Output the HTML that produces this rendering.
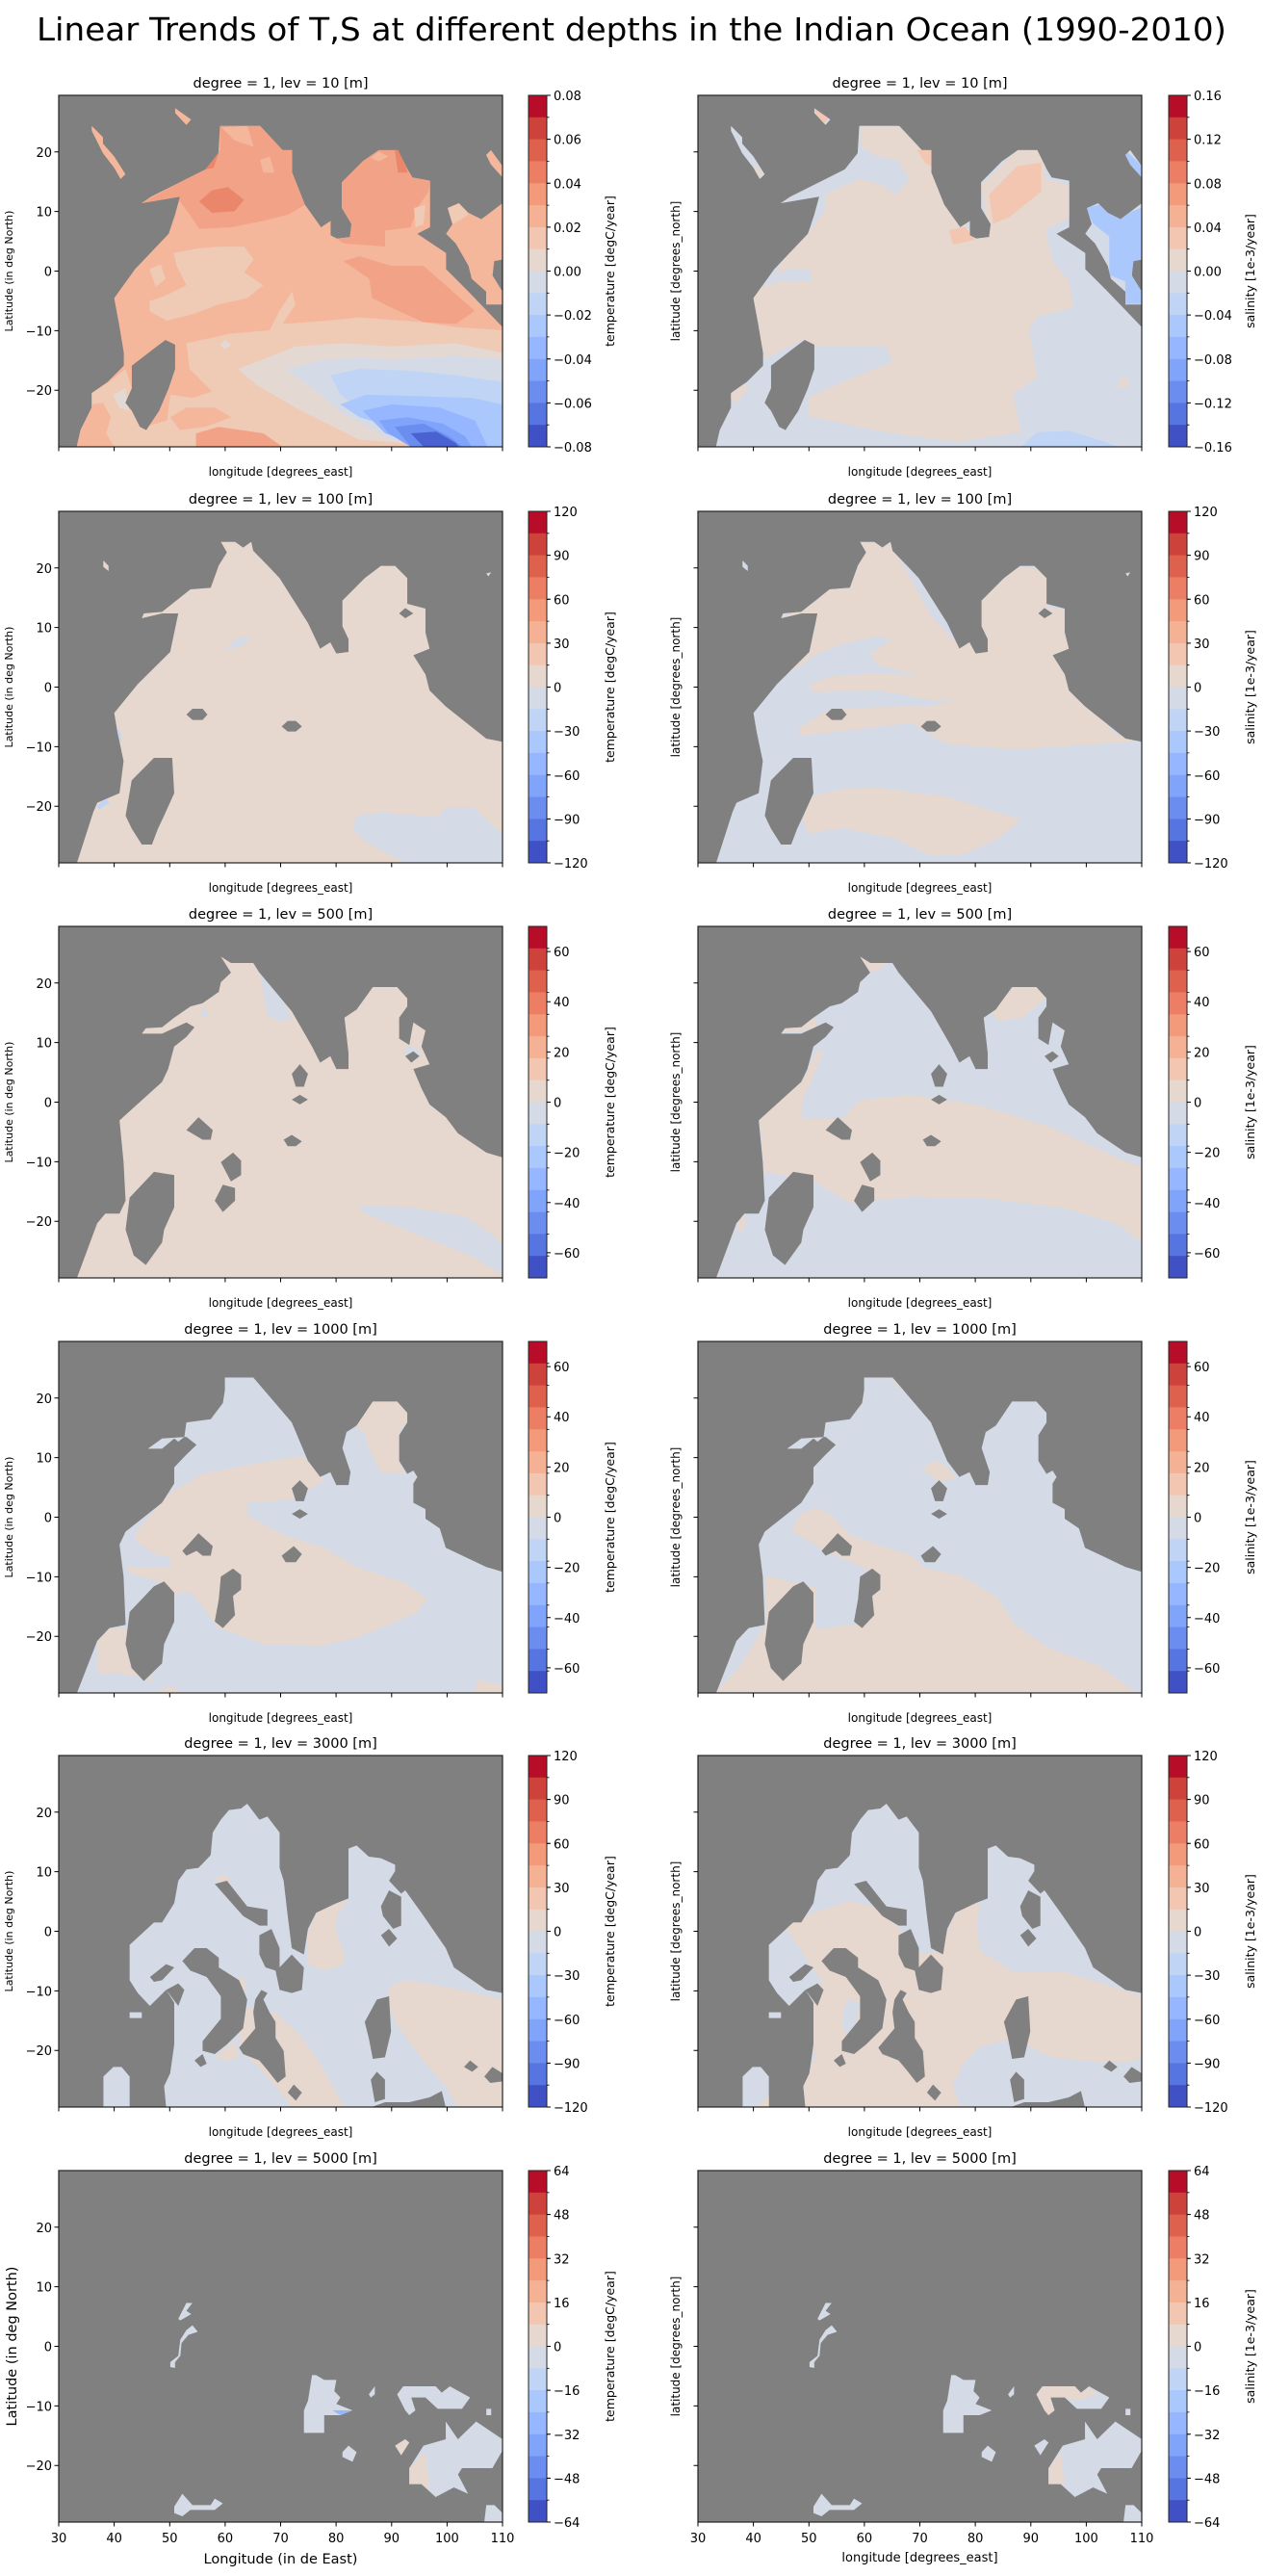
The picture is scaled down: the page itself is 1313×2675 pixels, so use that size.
<!DOCTYPE html>
<html><head><meta charset="utf-8"><style>
html,body{margin:0;padding:0;background:#fff;width:1313px;height:2675px;overflow:hidden;}
svg{display:block;}
text{font-family:"DejaVu Sans","Liberation Sans",sans-serif;fill:#000;}
</style></head><body>
<svg width="1313" height="2675" viewBox="0 0 1313 2675" xmlns="http://www.w3.org/2000/svg">
<defs>
<path id="m1" d="M118,1122 L130,1070 165,1000 165,955 215,920 265,870 265,830 250,740 235,660 300,570 405,460 425,400 440,345 320,365 350,345 440,300 520,260 560,210 565,125 690,125 760,200 790,200 790,270 830,370 880,440 910,420 910,465 930,475 970,470 975,430 945,380 945,300 1010,235 1060,200 1120,200 1150,260 1165,285 1220,295 1220,440 1180,460 1270,520 1270,570 1340,640 1446,750 1446,1122 Z M1275,380 L1310,365 1340,395 1380,415 1446,365 1446,540 1420,545 1415,590 1446,640 1446,680 1395,680 1395,640 1350,600 1340,560 1300,490 1270,460 1290,430 Z M1395,215 L1410,200 1446,250 1446,285 1410,245 Z M165,125 L200,160 200,180 235,220 270,275 255,290 235,255 200,210 165,140 Z M425,70 L475,105 460,122 425,85 Z"/>
<path id="i1" d="M395,790 L425,805 425,880 405,940 375,1010 335,1070 315,1060 290,1010 270,985 290,940 290,870 355,820 Z"/>
<path id="m2" d="M190,1187 L230,1030 240,1000 295,970 305,870 290,780 282,720 340,630 420,530 430,470 440,410 400,410 350,425 355,410 400,405 430,375 470,335 520,330 540,260 560,220 545,187 580,187 600,205 620,187 625,215 660,260 690,300 720,360 760,440 790,520 815,500 830,535 860,530 860,490 845,450 845,370 900,300 940,262 975,262 1005,300 1005,380 1050,395 1050,470 1060,520 1020,540 1050,600 1060,650 1100,700 1160,760 1200,800 1240,810 1240,1187 Z M255,245 L268,262 268,278 255,265 Z M1200,285 L1212,282 1205,295 Z"/>
<path id="i2" d="M380,860 L425,860 430,970 405,1040 390,1080 375,1130 350,1130 325,1080 310,1040 325,930 Z M460,725 L475,707 500,707 512,725 500,742 475,742 Z M695,762 L710,745 730,745 745,762 730,778 710,778 Z M985,410 L1000,393 1020,410 1000,425 Z"/>
<path id="m3" d="M190,1190 L240,1020 260,990 295,990 310,950 305,830 295,700 400,580 415,540 430,470 460,440 480,410 460,395 400,430 350,430 360,413 400,410 430,380 470,345 500,335 540,300 545,270 570,240 545,190 570,210 625,210 640,240 720,360 770,470 790,520 815,500 830,540 860,540 860,490 850,380 880,355 920,285 980,285 1005,320 1005,345 985,380 985,445 1010,465 1020,395 1050,420 1040,470 1060,525 1020,540 1040,600 1060,650 1100,690 1130,740 1200,800 1240,815 1240,1190 Z"/>
<path id="i3" d="M380,860 L430,870 430,970 405,1040 400,1080 360,1150 330,1120 310,1040 320,940 Z M720,555 L740,525 760,555 750,595 730,595 Z M720,635 L740,620 760,635 740,650 Z M460,730 L490,690 525,730 520,760 500,760 Z M545,830 L575,800 595,825 595,870 570,890 Z M530,950 L550,900 580,910 580,950 550,985 Z M700,760 L720,745 745,765 730,780 710,780 Z M1000,500 L1020,485 1035,500 1015,520 Z"/>
<path id="m4" d="M190,1192 L240,1030 270,990 310,980 305,830 295,730 310,690 400,600 430,540 430,490 460,450 485,420 460,395 400,400 365,432 400,432 430,400 440,410 455,395 460,350 520,340 550,290 555,250 555,210 625,210 720,350 760,470 790,520 815,505 830,545 860,545 865,505 845,430 855,380 880,360 920,285 980,285 1005,320 1005,350 985,390 985,470 1005,510 1020,500 1030,520 1020,540 1020,600 1050,620 1050,650 1085,680 1100,740 1200,800 1240,815 1240,1192 Z"/>
<path id="i4" d="M380,860 L405,845 430,880 430,970 405,1040 400,1100 355,1155 325,1115 310,1040 320,940 Z M720,555 L740,530 760,555 750,595 730,595 Z M720,635 L740,620 760,635 740,650 Z M450,750 L490,695 525,735 520,765 500,765 485,750 460,765 Z M545,830 L575,805 595,825 595,870 575,890 580,950 550,990 530,970 540,900 Z M695,765 L725,735 745,760 730,785 705,785 Z M1020,415 L1035,415 1035,490 1020,490 Z"/>
<path id="m5" d="M255,1195 L255,1100 280,1070 300,1070 320,1100 320,1195 Z M320,900 L350,900 350,918 320,918 Z M410,1195 L405,1130 420,1090 430,1000 430,870 410,830 370,880 340,840 320,800 320,690 380,620 400,620 430,560 440,490 460,455 490,450 520,410 525,340 545,300 565,270 595,265 610,250 640,300 660,290 690,340 690,450 700,490 710,600 720,700 750,720 760,640 780,590 830,560 860,545 860,390 880,380 910,415 940,420 975,440 975,460 960,490 990,530 1000,520 1040,590 1100,700 1120,760 1200,830 1240,840 1240,1195 Z"/>
<path id="i5" d="M530,500 L560,490 610,570 660,580 660,630 640,630 600,600 Z M640,660 L670,640 690,700 690,760 720,720 750,760 745,830 720,840 690,830 680,770 655,760 640,720 Z M370,790 L410,750 430,760 400,800 380,805 Z M410,830 L440,810 455,830 440,880 Z M450,740 L480,700 510,700 540,730 540,760 590,800 610,860 600,950 560,1000 530,1030 500,1020 500,990 545,920 545,850 510,790 490,780 470,770 Z M480,1050 L500,1030 510,1060 495,1070 Z M630,860 L645,830 660,840 650,860 665,900 680,930 680,980 700,1020 705,1100 685,1120 660,1080 640,1050 600,1030 590,1010 630,950 625,900 Z M710,1150 L725,1125 745,1150 730,1175 Z M940,570 L960,520 990,540 990,630 970,640 945,600 Z M940,660 L960,640 980,670 960,695 Z M900,930 L930,860 960,850 965,960 950,1040 920,1045 910,980 Z M915,1110 L930,1085 950,1110 950,1170 925,1180 Z M915,1196 L950,1180 1010,1180 1060,1165 1090,1145 1100,1196 Z M1145,1070 L1160,1050 1180,1070 1165,1085 Z M1195,1100 L1215,1070 1240,1090 1240,1115 1210,1120 Z"/>
<path id="m6" d="M440,625 L460,575 475,575 460,600 472,610 445,630 Z M420,775 L420,760 440,740 445,690 460,660 475,645 488,665 465,675 448,700 445,740 432,760 432,778 Z M760,880 L770,800 780,800 800,815 830,815 825,850 840,870 830,890 870,910 840,925 800,925 800,980 750,980 750,910 Z M845,1040 L860,1020 880,1040 870,1070 845,1055 Z M910,860 L925,835 925,860 915,870 Z M980,860 L995,835 1075,835 1090,855 1110,835 1160,870 1140,905 1080,905 1050,870 1015,870 1025,910 1010,925 1000,910 Z M975,1020 L1000,1000 1010,1010 990,1050 Z M1010,1090 L1045,1020 1100,1000 1100,945 1130,1000 1175,945 1240,1000 1240,1035 1215,1090 1140,1090 1130,1110 1155,1170 1120,1150 1075,1180 1040,1140 1010,1140 Z M430,1210 L450,1170 475,1205 520,1205 530,1185 550,1200 530,1220 470,1220 450,1240 430,1230 Z M1195,1258 L1200,1205 1220,1205 1240,1230 1240,1258 Z M1200,905 L1212,905 1212,925 1200,925 Z"/>
<clipPath id="c1"><use href="#m1"/></clipPath>
<clipPath id="c2"><use href="#m2"/></clipPath>
<clipPath id="c3"><use href="#m3"/></clipPath>
<clipPath id="c4"><use href="#m4"/></clipPath>
<clipPath id="c5"><use href="#m5"/></clipPath>
<clipPath id="c6"><use href="#m6"/></clipPath>
<g id="cb">
<rect x="0" y="0" width="19" height="23.3" fill="#b70d28"/>
<rect x="0" y="22.8" width="19" height="23.3" fill="#cd423b"/>
<rect x="0" y="45.6" width="19" height="23.3" fill="#de614d"/>
<rect x="0" y="68.4" width="19" height="23.3" fill="#ec7f63"/>
<rect x="0" y="91.3" width="19" height="23.3" fill="#f39a7b"/>
<rect x="0" y="114.1" width="19" height="23.3" fill="#f5b194"/>
<rect x="0" y="136.9" width="19" height="23.3" fill="#f2c6b0"/>
<rect x="0" y="159.7" width="19" height="23.3" fill="#e6d7cf"/>
<rect x="0" y="182.5" width="19" height="23.3" fill="#d4dbe6"/>
<rect x="0" y="205.3" width="19" height="23.3" fill="#c0d4f5"/>
<rect x="0" y="228.1" width="19" height="23.3" fill="#abc8fd"/>
<rect x="0" y="250.9" width="19" height="23.3" fill="#96b7ff"/>
<rect x="0" y="273.8" width="19" height="23.3" fill="#81a4fb"/>
<rect x="0" y="296.6" width="19" height="23.3" fill="#6b8df0"/>
<rect x="0" y="319.4" width="19" height="23.3" fill="#5775e0"/>
<rect x="0" y="342.2" width="19" height="22.8" fill="#3f51c5"/>
<rect x="0" y="0" width="19" height="365" fill="none" stroke="#222" stroke-width="1"/>
<path d="M19,22.8h2.5M19,45.6h2.5M19,68.4h2.5M19,91.3h2.5M19,114.1h2.5M19,136.9h2.5M19,159.7h2.5M19,182.5h2.5M19,205.3h2.5M19,228.1h2.5M19,250.9h2.5M19,273.8h2.5M19,296.6h2.5M19,319.4h2.5M19,342.2h2.5" stroke="#000" stroke-width="0.8"/>
</g>
<path id="tk9" d="M19,0h4M19,45.6h4M19,91.3h4M19,136.9h4M19,182.5h4M19,228.1h4M19,273.8h4M19,319.4h4M19,365h4" stroke="#000" stroke-width="1"/>
<path id="tk7" d="M19,26.1h4M19,78.2h4M19,130.4h4M19,182.5h4M19,234.6h4M19,286.8h4M19,338.9h4" stroke="#000" stroke-width="1"/>
<path id="yt" d="M-4.5,58.8h4.5M-4.5,120.6h4.5M-4.5,182.5h4.5M-4.5,244.4h4.5M-4.5,306.2h4.5" stroke="#000" stroke-width="1"/>
<path id="xt" d="M0,365v4.5M57.6,365v4.5M115.3,365v4.5M172.9,365v4.5M230.5,365v4.5M288.1,365v4.5M345.8,365v4.5M403.4,365v4.5M461,365v4.5" stroke="#000" stroke-width="1"/>
<rect id="fr" x="0" y="0" width="461" height="365" fill="none" stroke="#222" stroke-width="1.2"/>
</defs>

<text x="656" y="42" font-size="33" text-anchor="middle" textLength="1236" lengthAdjust="spacingAndGlyphs">Linear Trends of T,S at different depths in the Indian Ocean (1990-2010)</text>

<!-- ========== ROW 1 ========== -->
<text x="291.5" y="91" font-size="14.5" text-anchor="middle">degree = 1, lev = 10 [m]</text>
<text x="955.5" y="91" font-size="14.5" text-anchor="middle">degree = 1, lev = 10 [m]</text>
<svg x="61" y="99" width="461" height="365" viewBox="62 30 1384 1092" preserveAspectRatio="none">
<rect x="0" y="0" width="2000" height="2000" fill="#808080"/>
<g clip-path="url(#c1)">
<rect x="0" y="0" width="2000" height="2000" fill="#f5b79b"/>
<polygon fill="#f2a387" points="320,365 440,300 565,200 565,125 690,125 790,200 800,300 830,370 780,400 700,420 600,440 500,445 470,400 440,360"/>
<polygon fill="#f5b79b" points="570,130 650,125 670,190 610,170"/>
<polygon fill="#f5b79b" points="690,230 720,220 735,270 700,270"/>
<polygon fill="#ea866a" points="500,360 540,325 590,315 640,355 610,390 540,395"/>
<polygon fill="#ea866a" points="500,265 560,210 545,255"/>
<polygon fill="#f2a387" points="945,300 1010,235 1060,200 1120,200 1150,260 1165,285 1220,295 1215,330 1180,380 1160,440 1080,450 1080,500 950,490 930,475 970,470 975,430 945,380"/>
<polygon fill="#f2a387" points="950,545 1000,530 1100,560 1200,560 1280,630 1360,700 1300,740 1200,735 1100,690 1040,660 1030,600"/>
<polygon fill="#f5b79b" points="1035,225 1060,205 1090,220 1060,235"/>
<polygon fill="#efcab5" points="1170,380 1205,370 1200,430 1175,440"/>
<polygon fill="#ea866a" points="1110,200 1130,200 1150,270 1120,270"/>
<polygon fill="#efcab5" points="345,570 380,555 395,600 365,625"/>
<polygon fill="#efcab5" points="420,520 500,505 560,500 640,500 670,540 640,580 700,620 650,660 560,680 480,710 400,730 345,700 345,670 400,650 460,620 430,560"/>
<polygon fill="#efcab5" points="1270,380 1310,365 1340,400 1310,420 1290,430"/>
<polygon fill="#efcab5" points="460,800 600,770 720,760 750,700 790,640 800,680 760,740 900,730 1000,720 1200,735 1300,750 1446,760 1446,1122 118,1122 130,1070 165,955 220,920 270,880 330,1060 400,1040 410,960 480,970 540,950 470,880"/>
<polygon fill="#f5b79b" points="130,1070 165,990 200,985 225,1030 210,1080 235,1122 118,1122"/>
<polygon fill="#f5b79b" points="410,1030 460,1000 550,1000 600,1030 520,1060 440,1070"/>
<polygon fill="#e3d8d2" points="230,960 270,940 280,1010 250,1000"/>
<polygon fill="#e3d8d2" points="565,805 580,790 600,805 580,820"/>
<polygon fill="#e3d8d2" points="620,880 700,850 800,810 950,800 1100,810 1300,800 1446,830 1446,1122 1300,1122 1000,1100 800,1000 680,930"/>
<polygon fill="#d4dbe6" points="770,880 900,850 1000,845 1100,850 1300,840 1446,850 1446,1122 1350,1122 1100,1100 950,1020 880,960"/>
<polygon fill="#c0d4f5" points="910,900 1000,880 1150,885 1300,900 1446,920 1446,1122 1380,1122 1200,1100 1060,1060 1000,1000 940,960"/>
<polygon fill="#abc8fd" points="940,990 1020,960 1200,965 1350,970 1446,990 1446,1122 1400,1122 1250,1100 1100,1060 1000,1030"/>
<polygon fill="#96b7ff" points="1010,1010 1100,990 1250,1000 1360,1040 1400,1122 1200,1122 1080,1080"/>
<polygon fill="#81a4fb" points="1060,1040 1150,1030 1260,1050 1330,1090 1350,1122 1160,1122 1090,1080"/>
<polygon fill="#6b8df0" points="1110,1060 1200,1050 1280,1090 1320,1122 1160,1122"/>
<polygon fill="#4a61d2" points="1160,1080 1240,1075 1300,1110 1310,1122 1200,1122"/>
<polygon fill="#f2a387" points="490,1080 560,1060 700,1080 760,1122 490,1122"/>
</g>
<use href="#i1" fill="#808080"/>
</svg>
<svg x="725" y="99" width="461" height="365" viewBox="62 30 1384 1092" preserveAspectRatio="none">
<rect x="0" y="0" width="2000" height="2000" fill="#808080"/>
<g clip-path="url(#c1)">
<rect x="0" y="0" width="2000" height="2000" fill="#d4dbe6"/>
<g transform="translate(62,30) scale(1.249,0.997) translate(-153,-120)">
<polygon fill="#e6d7cf" points="290,760 300,720 360,700 440,700 430,660 380,660 350,680 360,640 420,560 470,480 470,430 520,400 560,380 610,400 650,430 680,380 650,320 600,310 560,280 560,215 650,215 700,260 740,350 770,450 830,540 880,560 860,400 950,290 1020,290 1020,380 1080,400 1080,500 1020,540 1040,640 1080,700 1090,780 1000,810 980,850 1000,1000 940,1050 960,1170 800,1200 620,1170 430,1120 430,1060 520,1010 640,950 620,900 540,900 440,900 420,880 320,940 300,830"/>
<polygon fill="#e6d7cf" points="230,1060 260,1010 280,1030 250,1080"/>
<polygon fill="#e6d7cf" points="290,330 320,370 300,380"/>
<polygon fill="#f2c6b0" points="880,430 950,340 1010,330 1010,420 930,500 890,520"/>
<polygon fill="#f2c6b0" points="780,540 820,530 845,570 790,585"/>
<polygon fill="#f2c6b0" points="700,290 735,290 735,340 720,330"/>
<polygon fill="#f2c6b0" points="440,160 480,190 465,210"/>
<polygon fill="#abc8fd" points="1120,470 1160,460 1200,500 1261,470 1261,770 1220,770 1220,700 1180,680 1180,560 1140,520"/>
<polygon fill="#abc8fd" points="1220,290 1261,340 1261,380 1220,320"/>
<polygon fill="#c0d4f5" points="960,1215 1000,1170 1080,1165 1170,1200 1200,1215"/>
<polygon fill="#e6d7cf" points="1195,1030 1215,995 1230,1010 1225,1030"/>
</g>
</g>
<use href="#i1" fill="#808080"/>
</svg>

<!-- ========== ROW 2 ========== -->
<text x="291.5" y="523" font-size="14.5" text-anchor="middle">degree = 1, lev = 100 [m]</text>
<text x="955.5" y="523" font-size="14.5" text-anchor="middle">degree = 1, lev = 100 [m]</text>
<svg x="61" y="531" width="461" height="365" viewBox="145 92 1095 1095" preserveAspectRatio="none">
<rect x="0" y="0" width="2000" height="2000" fill="#808080"/>
<g clip-path="url(#c2)">
<rect x="0" y="0" width="2000" height="2000" fill="#e6d7cf"/>
<polygon fill="#d4dbe6" points="870,1080 880,1040 940,1030 1080,1045 1100,1015 1170,1015 1240,1100 1240,1187 1000,1187 900,1120"/>
<polygon fill="#d4dbe6" points="555,520 590,485 620,482 600,510 560,522"/>
<polygon fill="#c0d4f5" points="280,790 295,770 300,810"/>
<polygon fill="#c0d4f5" points="240,1010 260,985 270,1000 245,1020"/>
</g>
<use href="#i2" fill="#808080"/>
</svg>
<svg x="725" y="531" width="461" height="365" viewBox="145 92 1095 1095" preserveAspectRatio="none">
<rect x="0" y="0" width="2000" height="2000" fill="#808080"/>
<g clip-path="url(#c2)">
<rect x="0" y="0" width="2000" height="2000" fill="#d4dbe6"/>
<g transform="translate(145,92) scale(0.8475,1.639) translate(-178,-18)">
<polygon fill="#e6d7cf" points="420,220 520,190 640,100 650,78 740,78 860,220 940,275 1000,240 1000,185 1090,125 1165,125 1195,145 1195,200 1245,205 1260,280 1215,290 1390,440 1470,455 1100,470 900,460 800,420 480,445 470,430 560,395 700,385 860,380 700,362 520,362 500,350 560,332 700,326 820,330 700,310 680,290 740,262 700,255 600,270 520,290 470,315 420,330 440,300 500,270 525,225"/>
<polygon fill="#d4dbe6" points="500,362 700,358 870,378 940,372 860,388 700,390 560,395"/>
<polygon fill="#e6d7cf" points="480,600 510,560 600,545 700,543 900,560 1050,590 1120,605 1050,640 950,670 850,670 750,640 600,620 500,630"/>
</g>
</g>
<use href="#i2" fill="#808080"/>
</svg>

<!-- ========== ROW 3 ========== -->
<text x="291.5" y="954" font-size="14.5" text-anchor="middle">degree = 1, lev = 500 [m]</text>
<text x="955.5" y="954" font-size="14.5" text-anchor="middle">degree = 1, lev = 500 [m]</text>
<svg x="61" y="962" width="461" height="365" viewBox="145 96 1095 1094" preserveAspectRatio="none">
<rect x="0" y="0" width="2000" height="2000" fill="#808080"/>
<g clip-path="url(#c3)">
<rect x="0" y="0" width="2000" height="2000" fill="#e6d7cf"/>
<polygon fill="#d4dbe6" points="885,970 900,965 1000,968 1150,1000 1220,1060 1240,1090 1240,1180 1160,1120 1000,1040 900,990"/>
<polygon fill="#d4dbe6" points="640,235 700,330 720,385 690,392 660,372 650,300"/>
<polygon fill="#d4dbe6" points="495,360 505,350 515,375 500,380"/>
<polygon fill="#d4dbe6" points="995,490 1010,465 1030,480 1040,500 1010,500"/>
</g>
<use href="#i3" fill="#808080"/>
</svg>
<svg x="725" y="962" width="461" height="365" viewBox="145 96 1095 1094" preserveAspectRatio="none">
<rect x="0" y="0" width="2000" height="2000" fill="#808080"/>
<g clip-path="url(#c3)">
<rect x="0" y="0" width="2000" height="2000" fill="#d4dbe6"/>
<g transform="translate(145,96) scale(0.8475,1.643) translate(-178,-806)">
<polygon fill="#e6d7cf" points="358,1170 420,1130 490,1090 520,1045 545,1040 530,1065 480,1140 480,1170 600,1170 650,1135 800,1125 1000,1145 1200,1185 1400,1245 1470,1262 1470,1405 1400,1370 1250,1340 1000,1320 800,1318 620,1330 520,1290 370,1270"/>
<polygon fill="#e6d7cf" points="420,1005 480,985 520,980 520,1000 470,1005"/>
<polygon fill="#e6d7cf" points="650,860 740,870 700,890 660,895"/>
<polygon fill="#e6d7cf" points="1030,965 1100,920 1190,920 1195,940 1120,980 1050,985"/>
<polygon fill="#e6d7cf" points="290,1375 310,1350 320,1370 300,1385"/>
</g>
</g>
<use href="#i3" fill="#808080"/>
</svg>

<!-- ========== ROW 4 ========== -->
<text x="291.5" y="1385" font-size="14.5" text-anchor="middle">degree = 1, lev = 1000 [m]</text>
<text x="955.5" y="1385" font-size="14.5" text-anchor="middle">degree = 1, lev = 1000 [m]</text>
<svg x="61" y="1393" width="461" height="365" viewBox="145 98 1095 1094" preserveAspectRatio="none">
<rect x="0" y="0" width="2000" height="2000" fill="#808080"/>
<g clip-path="url(#c4)">
<rect x="0" y="0" width="2000" height="2000" fill="#d4dbe6"/>
<polygon fill="#e6d7cf" points="335,690 420,570 500,510 620,480 745,455 790,500 800,530 720,590 610,600 610,640 700,700 800,740 880,800 1000,850 1055,900 1030,940 960,980 880,1020 790,1045 650,1040 540,990 520,960 500,920 470,880 440,880 420,920 410,860 380,840 320,820 310,800 420,800 420,770 380,760 335,720"/>
<polygon fill="#e6d7cf" points="240,1130 280,1130 340,1140 380,1160 350,1080 320,1040 310,990 270,990 240,1030"/>
<polygon fill="#e6d7cf" points="870,360 920,285 980,285 1005,320 1005,345 985,380 985,470 1000,510 940,505 910,430 900,380"/>
<polygon fill="#e6d7cf" points="380,1192 420,1170 450,1192"/>
<polygon fill="#e6d7cf" points="1170,1192 1180,1150 1240,1170 1240,1192"/>
</g>
<use href="#i4" fill="#808080"/>
</svg>
<svg x="725" y="1393" width="461" height="365" viewBox="145 98 1095 1094" preserveAspectRatio="none">
<rect x="0" y="0" width="2000" height="2000" fill="#808080"/>
<g clip-path="url(#c4)">
<rect x="0" y="0" width="2000" height="2000" fill="#d4dbe6"/>
<g transform="translate(145,98) scale(0.8475,1.645) translate(-178,-25)">
<polygon fill="#e6d7cf" points="230,688 300,640 375,560 375,468 520,490 520,570 640,560 700,470 850,455 950,470 1050,510 1100,560 1200,605 1350,640 1450,688"/>
<polygon fill="#e6d7cf" points="455,375 480,350 520,340 560,350 620,390 700,410 800,430 840,455 700,470 650,450 560,425 520,410 455,385"/>
<polygon fill="#e6d7cf" points="830,265 870,250 900,260 930,285 880,290"/>
<polygon fill="#e6d7cf" points="740,95 770,100 790,125 760,110"/>
</g>
</g>
<use href="#i4" fill="#808080"/>
</svg>

<!-- ========== ROW 5 ========== -->
<text x="291.5" y="1815" font-size="14.5" text-anchor="middle">degree = 1, lev = 3000 [m]</text>
<text x="955.5" y="1815" font-size="14.5" text-anchor="middle">degree = 1, lev = 3000 [m]</text>
<svg x="61" y="1823" width="461" height="365" viewBox="145 100 1095 1095" preserveAspectRatio="none">
<rect x="0" y="0" width="2000" height="2000" fill="#808080"/>
<g clip-path="url(#c5)">
<rect x="0" y="0" width="2000" height="2000" fill="#d4dbe6"/>
<polygon fill="#e6d7cf" points="760,650 780,590 830,560 860,550 830,600 830,650 850,720 850,750 800,770 760,750"/>
<polygon fill="#e6d7cf" points="960,820 1000,800 1100,820 1240,860 1240,1195 1130,1195 1100,1130 1050,1060 980,940 960,880"/>
<polygon fill="#e6d7cf" points="600,880 640,900 680,900 740,970 790,1060 850,1195 720,1195 680,1130 630,1060 600,1030 590,1000"/>
<polygon fill="#e6d7cf" points="500,1030 530,1040 580,990 590,1040 560,1050"/>
<polygon fill="#e6d7cf" points="530,480 560,470 570,500 555,510"/>
<polygon fill="#e6d7cf" points="470,440 490,420 500,450"/>
<polygon fill="#e6d7cf" points="570,790 600,790 610,840"/>
</g>
<use href="#i5" fill="#808080"/>
</svg>
<svg x="725" y="1823" width="461" height="365" viewBox="145 100 1095 1095" preserveAspectRatio="none">
<rect x="0" y="0" width="2000" height="2000" fill="#808080"/>
<g clip-path="url(#c5)">
<rect x="0" y="0" width="2000" height="2000" fill="#d4dbe6"/>
<g transform="translate(145,100) scale(0.8475,1.647) translate(-178,-810)">
<polygon fill="#e6d7cf" points="430,1135 500,1110 620,1085 720,1100 780,1150 830,1185 880,1180 930,1105 1000,1085 990,1130 1000,1180 1100,1220 1250,1220 1350,1240 1470,1265 1470,1380 1420,1395 1330,1395 1200,1380 1050,1370 950,1400 920,1430 940,1475 350,1475 390,1450 400,1400 490,1420 520,1380 500,1320 510,1280 540,1240 500,1200 470,1170"/>
<polygon fill="#d4dbe6" points="600,1290 620,1270 650,1280 630,1340 600,1330"/>
<polygon fill="#d4dbe6" points="940,1400 1000,1360 1100,1345 1200,1380 1350,1390 1470,1390 1470,1475 1450,1475 1430,1420 1200,1410 1100,1420 980,1430"/>
</g>
</g>
<use href="#i5" fill="#808080"/>
</svg>

<!-- ========== ROW 6 ========== -->
<text x="291.5" y="2246" font-size="14.5" text-anchor="middle">degree = 1, lev = 5000 [m]</text>
<text x="955.5" y="2246" font-size="14.5" text-anchor="middle">degree = 1, lev = 5000 [m]</text>
<svg x="61" y="2254" width="461" height="365" viewBox="145 163 1095 1095" preserveAspectRatio="none">
<rect x="0" y="0" width="2000" height="2000" fill="#808080"/>
<g clip-path="url(#c6)">
<rect x="0" y="0" width="2000" height="2000" fill="#d4dbe6"/>
<polygon fill="#e6d7cf" points="1010,1090 1050,1040 1060,1160 1040,1140 1010,1140"/>
<polygon fill="#e6d7cf" points="965,1020 1000,1000 1010,1010 990,1050"/>
<polygon fill="#96b7ff" points="820,910 870,910 840,925"/>
</g>
</svg>
<svg x="725" y="2254" width="461" height="365" viewBox="145 163 1095 1095" preserveAspectRatio="none">
<rect x="0" y="0" width="2000" height="2000" fill="#808080"/>
<g clip-path="url(#c6)">
<rect x="0" y="0" width="2000" height="2000" fill="#d4dbe6"/>
<polygon fill="#e6d7cf" points="980,860 995,835 1075,835 1090,855 1110,840 1130,860 1080,880 1050,870 1015,870 1025,910 1010,925 1000,960 990,1000 970,1030 960,1010 990,960 1000,910"/>
<polygon fill="#e6d7cf" points="1010,1090 1040,1040 1050,1140 1010,1140"/>
</g>
</svg>

<!-- frames, ticks -->
<g>
<use href="#fr" x="61" y="99"/><use href="#fr" x="725" y="99"/>
<use href="#fr" x="61" y="531"/><use href="#fr" x="725" y="531"/>
<use href="#fr" x="61" y="962"/><use href="#fr" x="725" y="962"/>
<use href="#fr" x="61" y="1393"/><use href="#fr" x="725" y="1393"/>
<use href="#fr" x="61" y="1823"/><use href="#fr" x="725" y="1823"/>
<use href="#fr" x="61" y="2254"/><use href="#fr" x="725" y="2254"/>
<use href="#yt" x="61" y="99"/><use href="#yt" x="725" y="99"/>
<use href="#yt" x="61" y="531"/><use href="#yt" x="725" y="531"/>
<use href="#yt" x="61" y="962"/><use href="#yt" x="725" y="962"/>
<use href="#yt" x="61" y="1393"/><use href="#yt" x="725" y="1393"/>
<use href="#yt" x="61" y="1823"/><use href="#yt" x="725" y="1823"/>
<use href="#yt" x="61" y="2254"/><use href="#yt" x="725" y="2254"/>
<use href="#xt" x="61" y="99"/><use href="#xt" x="725" y="99"/>
<use href="#xt" x="61" y="531"/><use href="#xt" x="725" y="531"/>
<use href="#xt" x="61" y="962"/><use href="#xt" x="725" y="962"/>
<use href="#xt" x="61" y="1393"/><use href="#xt" x="725" y="1393"/>
<use href="#xt" x="61" y="1823"/><use href="#xt" x="725" y="1823"/>
<use href="#xt" x="61" y="2254"/><use href="#xt" x="725" y="2254"/>
</g>

<!-- colorbars -->
<use href="#cb" x="549" y="99"/><use href="#tk9" x="549" y="99"/>
<use href="#cb" x="1214" y="99"/><use href="#tk9" x="1214" y="99"/>
<use href="#cb" x="549" y="531"/><use href="#tk9" x="549" y="531"/>
<use href="#cb" x="1214" y="531"/><use href="#tk9" x="1214" y="531"/>
<use href="#cb" x="549" y="962"/><use href="#tk7" x="549" y="962"/>
<use href="#cb" x="1214" y="962"/><use href="#tk7" x="1214" y="962"/>
<use href="#cb" x="549" y="1393"/><use href="#tk7" x="549" y="1393"/>
<use href="#cb" x="1214" y="1393"/><use href="#tk7" x="1214" y="1393"/>
<use href="#cb" x="549" y="1823"/><use href="#tk9" x="549" y="1823"/>
<use href="#cb" x="1214" y="1823"/><use href="#tk9" x="1214" y="1823"/>
<use href="#cb" x="549" y="2254"/><use href="#tk9" x="549" y="2254"/>
<use href="#cb" x="1214" y="2254"/><use href="#tk9" x="1214" y="2254"/>

<!-- y tick labels (left column) -->
<g font-size="13" text-anchor="end">
<text x="54" y="162.8">20</text><text x="54" y="224.6">10</text><text x="54" y="286.5">0</text><text x="54" y="348.4">−10</text><text x="54" y="410.2">−20</text>
<text x="54" y="594.8">20</text><text x="54" y="656.6">10</text><text x="54" y="718.5">0</text><text x="54" y="780.4">−10</text><text x="54" y="842.2">−20</text>
<text x="54" y="1025.8">20</text><text x="54" y="1087.6">10</text><text x="54" y="1149.5">0</text><text x="54" y="1211.4">−10</text><text x="54" y="1273.2">−20</text>
<text x="54" y="1456.8">20</text><text x="54" y="1518.6">10</text><text x="54" y="1580.5">0</text><text x="54" y="1642.4">−10</text><text x="54" y="1704.2">−20</text>
<text x="54" y="1886.8">20</text><text x="54" y="1948.6">10</text><text x="54" y="2010.5">0</text><text x="54" y="2072.4">−10</text><text x="54" y="2134.2">−20</text>
<text x="54" y="2317.8">20</text><text x="54" y="2379.6">10</text><text x="54" y="2441.5">0</text><text x="54" y="2503.4">−10</text><text x="54" y="2565.2">−20</text>
</g>

<!-- x tick labels bottom row -->
<g font-size="13" text-anchor="middle">
<text x="61" y="2640">30</text><text x="118.6" y="2640">40</text><text x="176.3" y="2640">50</text><text x="233.9" y="2640">60</text><text x="291.5" y="2640">70</text><text x="349.1" y="2640">80</text><text x="406.8" y="2640">90</text><text x="464.4" y="2640">100</text><text x="522" y="2640">110</text>
<text x="725" y="2640">30</text><text x="782.6" y="2640">40</text><text x="840.3" y="2640">50</text><text x="897.9" y="2640">60</text><text x="955.5" y="2640">70</text><text x="1013.1" y="2640">80</text><text x="1070.8" y="2640">90</text><text x="1128.4" y="2640">100</text><text x="1186" y="2640">110</text>
</g>

<!-- x labels -->
<g font-size="12" text-anchor="middle">
<text x="291.5" y="494">longitude [degrees_east]</text><text x="955.5" y="494">longitude [degrees_east]</text>
<text x="291.5" y="926">longitude [degrees_east]</text><text x="955.5" y="926">longitude [degrees_east]</text>
<text x="291.5" y="1357">longitude [degrees_east]</text><text x="955.5" y="1357">longitude [degrees_east]</text>
<text x="291.5" y="1788">longitude [degrees_east]</text><text x="955.5" y="1788">longitude [degrees_east]</text>
<text x="291.5" y="2218">longitude [degrees_east]</text><text x="955.5" y="2218">longitude [degrees_east]</text>
<text x="955.5" y="2660" font-size="13">longitude [degrees_east]</text>
</g>
<text x="291.5" y="2662" font-size="14.5" text-anchor="middle">Longitude (in de East)</text>

<!-- y labels -->
<g font-size="11" text-anchor="middle">
<text transform="translate(13,281.5) rotate(-90)">Latitude (in deg North)</text>
<text transform="translate(13,713.5) rotate(-90)">Latitude (in deg North)</text>
<text transform="translate(13,1144.5) rotate(-90)">Latitude (in deg North)</text>
<text transform="translate(13,1575.5) rotate(-90)">Latitude (in deg North)</text>
<text transform="translate(13,2005.5) rotate(-90)">Latitude (in deg North)</text>
</g>
<text transform="translate(17,2436.5) rotate(-90)" font-size="14.5" text-anchor="middle">Latitude (in deg North)</text>
<g font-size="12" text-anchor="middle">
<text transform="translate(706,281.5) rotate(-90)">latitude [degrees_north]</text>
<text transform="translate(706,713.5) rotate(-90)">latitude [degrees_north]</text>
<text transform="translate(706,1144.5) rotate(-90)">latitude [degrees_north]</text>
<text transform="translate(706,1575.5) rotate(-90)">latitude [degrees_north]</text>
<text transform="translate(706,2005.5) rotate(-90)">latitude [degrees_north]</text>
<text transform="translate(706,2436.5) rotate(-90)">latitude [degrees_north]</text>
</g>

<!-- colorbar labels -->
<g font-size="12.5" text-anchor="middle">
<text transform="translate(638,281.5) rotate(-90)">temperature [degC/year]</text>
<text transform="translate(638,713.5) rotate(-90)">temperature [degC/year]</text>
<text transform="translate(638,1144.5) rotate(-90)">temperature [degC/year]</text>
<text transform="translate(638,1575.5) rotate(-90)">temperature [degC/year]</text>
<text transform="translate(638,2005.5) rotate(-90)">temperature [degC/year]</text>
<text transform="translate(638,2436.5) rotate(-90)">temperature [degC/year]</text>
<text transform="translate(1303,281.5) rotate(-90)">salinity [1e-3/year]</text>
<text transform="translate(1303,713.5) rotate(-90)">salinity [1e-3/year]</text>
<text transform="translate(1303,1144.5) rotate(-90)">salinity [1e-3/year]</text>
<text transform="translate(1303,1575.5) rotate(-90)">salinity [1e-3/year]</text>
<text transform="translate(1303,2005.5) rotate(-90)">salinity [1e-3/year]</text>
<text transform="translate(1303,2436.5) rotate(-90)">salinity [1e-3/year]</text>
</g>

<!-- colorbar tick labels -->
<g font-size="13">
<text x="575" y="104">0.08</text><text x="575" y="149.6">0.06</text><text x="575" y="195.3">0.04</text><text x="575" y="240.9">0.02</text><text x="575" y="286.5">0.00</text><text x="575" y="332.1">−0.02</text><text x="575" y="377.8">−0.04</text><text x="575" y="423.4">−0.06</text><text x="575" y="469">−0.08</text>
<text x="1240" y="104">0.16</text><text x="1240" y="149.6">0.12</text><text x="1240" y="195.3">0.08</text><text x="1240" y="240.9">0.04</text><text x="1240" y="286.5">0.00</text><text x="1240" y="332.1">−0.04</text><text x="1240" y="377.8">−0.08</text><text x="1240" y="423.4">−0.12</text><text x="1240" y="469">−0.16</text>

<text x="575" y="536">120</text><text x="575" y="581.6">90</text><text x="575" y="627.3">60</text><text x="575" y="672.9">30</text><text x="575" y="718.5">0</text><text x="575" y="764.1">−30</text><text x="575" y="809.8">−60</text><text x="575" y="855.4">−90</text><text x="575" y="901">−120</text>
<text x="1240" y="536">120</text><text x="1240" y="581.6">90</text><text x="1240" y="627.3">60</text><text x="1240" y="672.9">30</text><text x="1240" y="718.5">0</text><text x="1240" y="764.1">−30</text><text x="1240" y="809.8">−60</text><text x="1240" y="855.4">−90</text><text x="1240" y="901">−120</text>

<text x="575" y="993.1">60</text><text x="575" y="1045.2">40</text><text x="575" y="1097.4">20</text><text x="575" y="1149.5">0</text><text x="575" y="1201.6">−20</text><text x="575" y="1253.8">−40</text><text x="575" y="1305.9">−60</text>
<text x="1240" y="993.1">60</text><text x="1240" y="1045.2">40</text><text x="1240" y="1097.4">20</text><text x="1240" y="1149.5">0</text><text x="1240" y="1201.6">−20</text><text x="1240" y="1253.8">−40</text><text x="1240" y="1305.9">−60</text>

<text x="575" y="1424.1">60</text><text x="575" y="1476.2">40</text><text x="575" y="1528.4">20</text><text x="575" y="1580.5">0</text><text x="575" y="1632.6">−20</text><text x="575" y="1684.8">−40</text><text x="575" y="1736.9">−60</text>
<text x="1240" y="1424.1">60</text><text x="1240" y="1476.2">40</text><text x="1240" y="1528.4">20</text><text x="1240" y="1580.5">0</text><text x="1240" y="1632.6">−20</text><text x="1240" y="1684.8">−40</text><text x="1240" y="1736.9">−60</text>

<text x="575" y="1828">120</text><text x="575" y="1873.6">90</text><text x="575" y="1919.3">60</text><text x="575" y="1964.9">30</text><text x="575" y="2010.5">0</text><text x="575" y="2056.1">−30</text><text x="575" y="2101.8">−60</text><text x="575" y="2147.4">−90</text><text x="575" y="2193">−120</text>
<text x="1240" y="1828">120</text><text x="1240" y="1873.6">90</text><text x="1240" y="1919.3">60</text><text x="1240" y="1964.9">30</text><text x="1240" y="2010.5">0</text><text x="1240" y="2056.1">−30</text><text x="1240" y="2101.8">−60</text><text x="1240" y="2147.4">−90</text><text x="1240" y="2193">−120</text>

<text x="575" y="2259">64</text><text x="575" y="2304.6">48</text><text x="575" y="2350.3">32</text><text x="575" y="2395.9">16</text><text x="575" y="2441.5">0</text><text x="575" y="2487.1">−16</text><text x="575" y="2532.8">−32</text><text x="575" y="2578.4">−48</text><text x="575" y="2624">−64</text>
<text x="1240" y="2259">64</text><text x="1240" y="2304.6">48</text><text x="1240" y="2350.3">32</text><text x="1240" y="2395.9">16</text><text x="1240" y="2441.5">0</text><text x="1240" y="2487.1">−16</text><text x="1240" y="2532.8">−32</text><text x="1240" y="2578.4">−48</text><text x="1240" y="2624">−64</text>
</g>
</svg>
</body></html>
